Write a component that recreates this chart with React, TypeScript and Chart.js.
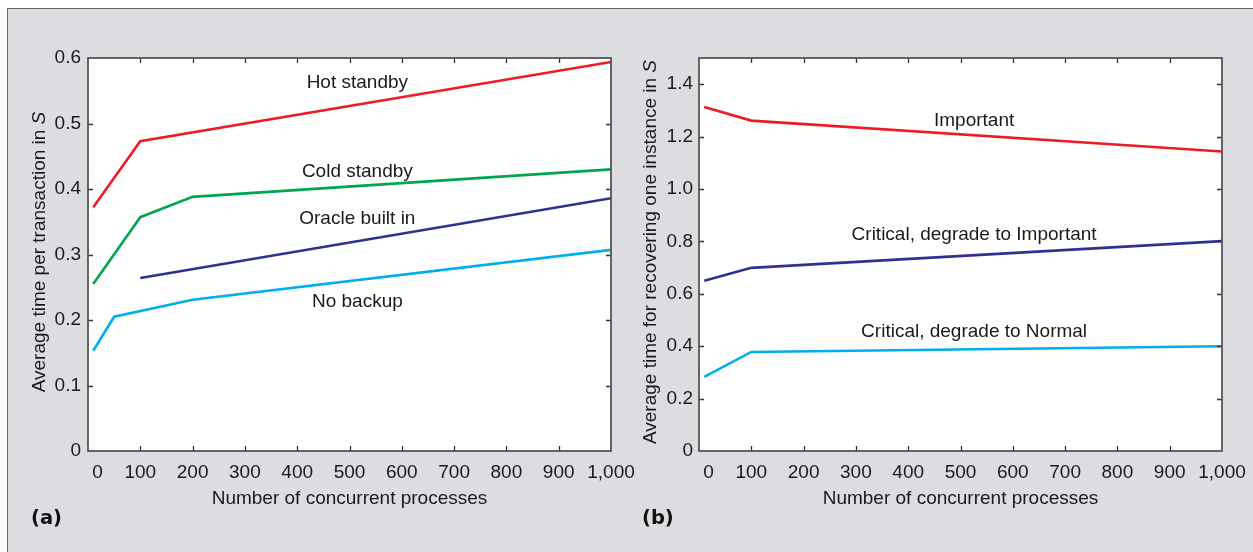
import React, { useEffect, useRef } from 'react';
import { Chart, registerables } from 'chart.js';

Chart.register(...registerables);

const FONT = "'Liberation Sans', Arial, sans-serif";
const BOLD_FONT = "'DejaVu Sans', 'Liberation Sans', sans-serif";
const FS = 19;

// ---------- Panel (a) data ----------
const hotStandbyX = [10, 100, 1000];
const hotStandbyY = [0.372, 0.473, 0.594];
const coldStandbyX = [10, 100, 200, 1000];
const coldStandbyY = [0.255, 0.357, 0.388, 0.43];
const oracleBuiltInX = [100, 1000];
const oracleBuiltInY = [0.264, 0.386];
const noBackupX = [10, 50, 200, 1000];
const noBackupY = [0.153, 0.205, 0.231, 0.307];

// ---------- Panel (b) data ----------
const importantX = [10, 100, 1000];
const importantY = [1.313, 1.261, 1.143];
const critToImportantX = [10, 100, 1000];
const critToImportantY = [0.65, 0.699, 0.801];
const critToNormalX = [10, 100, 1000];
const critToNormalY = [0.283, 0.378, 0.4];

// axis ranges / steps
const xMin = 0;
const xMax = 1000;
const xStep = 100;
const yMaxA = 0.6;
const yStepA = 0.1;
const yMaxB = 1.5;
const yStepB = 0.2;
const yLabelMaxA = 0.6;
const yLabelMaxB = 1.4;

const xTitle = 'Number of concurrent processes';
const yTitleA = 'Average time per transaction in ';
const yTitleB = 'Average time for recovering one instance in ';
const yTitleItalic = 'S';

// series label annotations (text, x value, baseline y value)
const labelsA = [
  { text: 'Hot standby', x: 515, y: 0.554 },
  { text: 'Cold standby', x: 515, y: 0.418 },
  { text: 'Oracle built in', x: 515, y: 0.3466 },
  { text: 'No backup', x: 515, y: 0.22 },
];
const labelsB = [
  { text: 'Important', x: 526, y: 1.242 },
  { text: 'Critical, degrade to Important', x: 526, y: 0.806 },
  { text: 'Critical, degrade to Normal', x: 526, y: 0.4356 },
];

const RED = '#ed1c24';
const GREEN = '#00a650';
const NAVY = '#2e3192';
const CYAN = '#00aeef';

const zip = (xs: number[], ys: number[]) => xs.map((x, i) => ({ x, y: ys[i] }));

const framePlugin = {
  id: 'frame',
  beforeDraw(chart: any) {
    const { ctx, chartArea: a } = chart;
    ctx.save();
    ctx.fillStyle = '#ffffff';
    ctx.fillRect(a.left, a.top, a.right - a.left, a.bottom - a.top);
    ctx.restore();
  },
  afterDatasetsDraw(chart: any, _args: any, opts: any) {
    const { ctx, chartArea: a } = chart;
    const xs = chart.scales.x;
    const ys = chart.scales.y;
    ctx.save();
    // ticks inward on all sides
    ctx.strokeStyle = '#333';
    ctx.lineWidth = 1.3;
    const tl = 5;
    ctx.beginPath();
    xs.ticks.forEach((t: any) => {
      if (t.value <= xs.min || t.value >= xs.max) return;
      const px = Math.round(xs.getPixelForValue(t.value)) + 0.5;
      ctx.moveTo(px, a.bottom);
      ctx.lineTo(px, a.bottom - tl);
      ctx.moveTo(px, a.top);
      ctx.lineTo(px, a.top + tl);
    });
    ys.ticks.forEach((t: any) => {
      if (t.value <= ys.min + 1e-9 || t.value >= ys.max - 1e-9) return;
      const py = Math.round(ys.getPixelForValue(t.value)) + 0.5;
      ctx.moveTo(a.left, py);
      ctx.lineTo(a.left + tl, py);
      ctx.moveTo(a.right, py);
      ctx.lineTo(a.right - tl, py);
    });
    ctx.stroke();
    // frame
    ctx.strokeStyle = '#555';
    ctx.lineWidth = 1.8;
    ctx.strokeRect(a.left, a.top, a.right - a.left, a.bottom - a.top);

    // series labels
    ctx.fillStyle = '#1a1a1a';
    ctx.font = `${FS}px ${FONT}`;
    ctx.textAlign = 'center';
    ctx.textBaseline = 'alphabetic';
    (opts.labels || []).forEach((l: any) => {
      ctx.fillText(l.text, xs.getPixelForValue(l.x), ys.getPixelForValue(l.y));
    });

    // x title
    ctx.fillText(opts.xTitle, (a.left + a.right) / 2, opts.xTitleY);

    // y title with italic S
    ctx.save();
    ctx.translate(opts.yTitleX, opts.yTitleCenter);
    ctx.rotate(-Math.PI / 2);
    ctx.textAlign = 'left';
    ctx.font = `${FS}px ${FONT}`;
    const w1 = ctx.measureText(opts.yTitle).width;
    ctx.font = `italic ${FS}px ${FONT}`;
    const w2 = ctx.measureText(opts.yTitleItalic).width;
    const start = -(w1 + w2) / 2;
    ctx.font = `${FS}px ${FONT}`;
    ctx.fillText(opts.yTitle, start, 0);
    ctx.font = `italic ${FS}px ${FONT}`;
    ctx.fillText(opts.yTitleItalic, start + w1, 0);
    ctx.restore();

    // panel label
    ctx.font = `bold 19.5px ${BOLD_FONT}`;
    ctx.textAlign = 'left';
    ctx.fillStyle = '#111';
    ctx.fillText(opts.panel, opts.panelX, opts.panelY);
    ctx.restore();
  },
};

function makeConfig(
  datasets: any[],
  yMax: number,
  yStep: number,
  yLabelMax: number,
  yAxisWidth: number,
  padRight: number,
  yPad: number,
  pluginOpts: any
) {
  return {
    type: 'line' as const,
    data: { datasets },
    options: {
      responsive: false,
      animation: false as const,
      events: [],
      layout: { padding: { left: 0, top: 58, right: padRight, bottom: 0 } },
      elements: { point: { radius: 0 }, line: { tension: 0, borderWidth: 2.6 } },
      scales: {
        x: {
          type: 'linear' as const,
          min: xMin,
          max: xMax,
          grid: { display: false, drawTicks: false },
          border: { display: false },
          ticks: {
            stepSize: xStep,
            autoSkip: false,
            maxRotation: 0,
            padding: 10,
            color: '#1a1a1a',
            font: { family: FONT, size: FS },
            callback: (v: number) => (v === 0 ? '\u2002\u20020' : v === 1000 ? '1,000' : String(v)),
          },
          afterFit: (s: any) => {
            s.height = 101;
            s.paddingLeft = 0;
            s.paddingRight = 0;
          },
        },
        y: {
          type: 'linear' as const,
          min: 0,
          max: yMax,
          grid: { display: false, drawTicks: false },
          border: { display: false },
          ticks: {
            stepSize: yStep,
            padding: yPad,
            color: '#1a1a1a',
            font: { family: FONT, size: FS },
            callback: (v: number) =>
              Math.abs(v) < 1e-9 ? '0' : v > yLabelMax + 1e-9 ? '' : Number(v).toFixed(1),
          },
          afterFit: (s: any) => {
            s.width = yAxisWidth;
            s.paddingTop = 0;
            s.paddingBottom = 0;
          },
        },
      },
      plugins: {
        legend: { display: false },
        tooltip: { enabled: false },
        frame: pluginOpts,
      },
    },
    plugins: [framePlugin],
  };
}

const ds = (xs: number[], ys: number[], color: string) => ({
  data: zip(xs, ys),
  borderColor: color,
  backgroundColor: color,
  fill: false,
});

export default function App() {
  const refA = useRef<HTMLCanvasElement | null>(null);
  const refB = useRef<HTMLCanvasElement | null>(null);

  useEffect(() => {
    const leftA = 0;
    const leftB = 626;
    const chartA = new Chart(
      refA.current as HTMLCanvasElement,
      makeConfig(
        [
          ds(hotStandbyX, hotStandbyY, RED),
          ds(coldStandbyX, coldStandbyY, GREEN),
          ds(oracleBuiltInX, oracleBuiltInY, NAVY),
          ds(noBackupX, noBackupY, CYAN),
        ],
        yMaxA,
        yStepA,
        yLabelMaxA,
        88 - leftA,
        640 - 611,
        7,
        {
          labels: labelsA,
          xTitle,
          xTitleY: 504,
          yTitle: yTitleA,
          yTitleItalic,
          yTitleX: 45 - leftA,
          yTitleCenter: 252,
          panel: '(a)',
          panelX: 31 - leftA,
          panelY: 524,
        }
      ) as any
    );
    const chartB = new Chart(
      refB.current as HTMLCanvasElement,
      makeConfig(
        [
          ds(importantX, importantY, RED),
          ds(critToImportantX, critToImportantY, NAVY),
          ds(critToNormalX, critToNormalY, CYAN),
        ],
        yMaxB,
        yStepB,
        yLabelMaxB,
        699 - leftB,
        1253 - 1222,
        6,
        {
          labels: labelsB,
          xTitle,
          xTitleY: 504,
          yTitle: yTitleB,
          yTitleItalic,
          yTitleX: 656 - leftB,
          yTitleCenter: 252,
          panel: '(b)',
          panelX: 642 - leftB,
          panelY: 524,
        }
      ) as any
    );
    return () => {
      chartA.destroy();
      chartB.destroy();
    };
  }, []);

  return (
    <div style={{ position: 'absolute', left: 0, top: 0, width: 1253, height: 552, overflow: 'hidden', background: '#fff' }}>
      <div
        style={{
          position: 'absolute',
          left: 7,
          top: 8,
          right: 0,
          bottom: 0,
          background: '#dcdde0',
          borderLeft: '1.5px solid #666',
          borderTop: '1.5px solid #666',
        }}
      />
      <canvas ref={refA} width={640} height={552} style={{ position: 'absolute', left: 0, top: 0 }} />
      <canvas ref={refB} width={627} height={552} style={{ position: 'absolute', left: 626, top: 0 }} />
    </div>
  );
}
